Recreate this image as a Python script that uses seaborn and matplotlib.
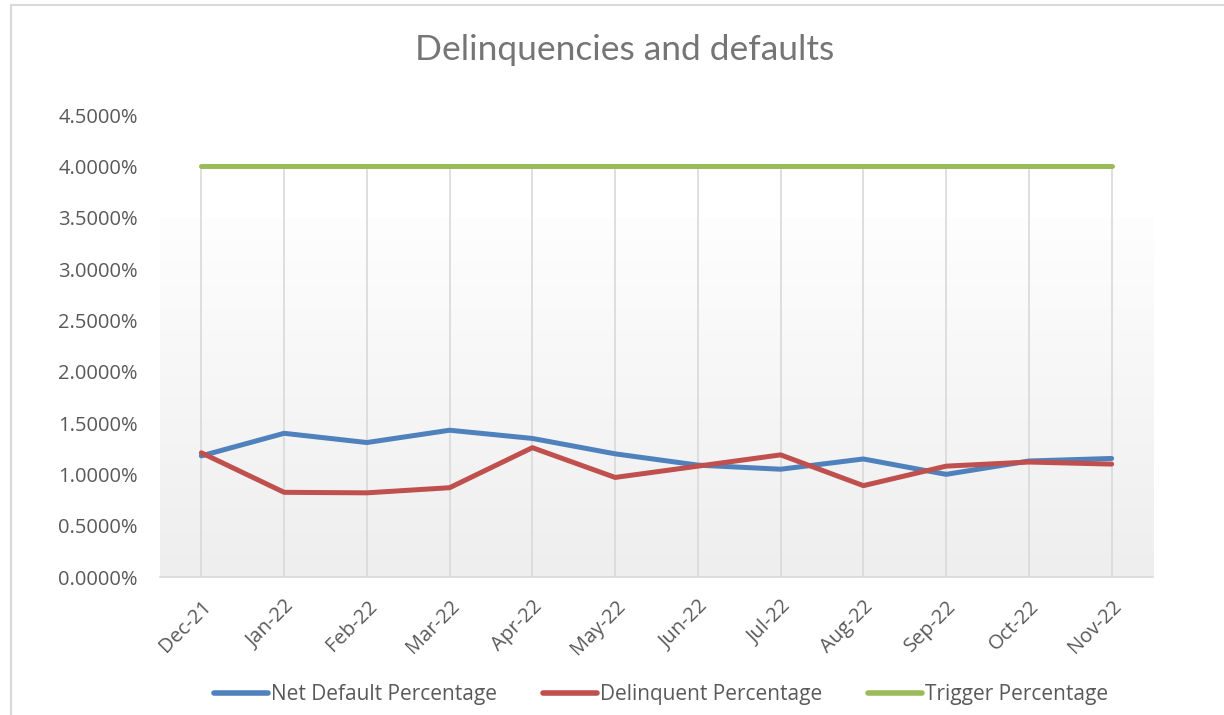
import numpy as np
import pandas as pd
import matplotlib
matplotlib.use("Agg")
import matplotlib.pyplot as plt
import seaborn as sns
from matplotlib.ticker import FuncFormatter, FixedLocator
from matplotlib.colors import LinearSegmentedColormap
from matplotlib.patches import Rectangle

months = ["Dec-21", "Jan-22", "Feb-22", "Mar-22", "Apr-22", "May-22",
          "Jun-22", "Jul-22", "Aug-22", "Sep-22", "Oct-22", "Nov-22"]
net_default = [1.18, 1.40, 1.31, 1.43, 1.35, 1.20, 1.09, 1.05, 1.15, 1.00, 1.13, 1.155]
delinquent = [1.21, 0.825, 0.82, 0.87, 1.26, 0.97, 1.08, 1.19, 0.89, 1.08, 1.12, 1.10]
trigger = [4.0] * 12

series = {"Net Default Percentage": net_default,
          "Delinquent Percentage": delinquent,
          "Trigger Percentage": trigger}
rows = []
for name, vals in series.items():
    for i, v in enumerate(vals):
        rows.append({"idx": i, "month": months[i], "value": v / 100, "series": name})
df = pd.DataFrame(rows)

sns.set_style("white")
plt.rcParams["font.family"] = ["Open Sans", "DejaVu Sans"]

fig = plt.figure(figsize=(12.24, 7.15), dpi=100)
ax = fig.add_axes([0.1307, 0.193, 0.8113, 0.646])

# light gradient fill of the plot area (Excel style)
cmap = LinearSegmentedColormap.from_list("bg", ["#fefefe", "#eeeeee"])
grad = np.linspace(0, 1, 256).reshape(-1, 1)
ax.imshow(grad, cmap=cmap, aspect="auto", extent=[-0.5, 11.5, 0, 0.035],
          origin="upper", zorder=0)

# drop lines from the top series to the axis
ax.vlines(range(len(months)), 0, np.array(trigger) / 100, color="#d9d9d9", lw=1.2, zorder=1)

palette = {"Net Default Percentage": "#4f81bd",
           "Delinquent Percentage": "#c0504d",
           "Trigger Percentage": "#9bbb59"}
sns.lineplot(data=df, x="idx", y="value", hue="series", palette=palette,
             linewidth=3.6, ax=ax, legend=True, zorder=3)

ax.set_xlim(-0.5, 11.5)
ax.set_ylim(0, 0.045)
ax.yaxis.set_major_locator(FixedLocator(np.arange(0, 0.0451, 0.005)))
ax.yaxis.set_major_formatter(FuncFormatter(lambda v, p: f"{v*100:.4f}%"))
ax.set_xticks(range(len(months)))
ax.set_xticklabels(months, rotation=45, ha="right", rotation_mode="anchor")
ax.set_xticks(np.arange(-0.5, 12, 1), minor=True)
ax.tick_params(axis="x", which="major", length=0, pad=14, labelsize=14.5, labelcolor="#595959")
ax.tick_params(axis="x", which="minor", length=6, color="#d9d9d9", width=1.2, direction="out")
ax.tick_params(axis="y", length=0, pad=16, labelsize=14.5, labelcolor="#595959")
ax.set_xlabel("")
ax.set_ylabel("")
for s in ["top", "right", "left"]:
    ax.spines[s].set_visible(False)
ax.spines["bottom"].set_color("#d9d9d9")
ax.spines["bottom"].set_linewidth(1.2)

fig.text(0.5106, 0.930, "Delinquencies and defaults", fontsize=25.5, color="#757575",
         family=["Lato", "DejaVu Sans"], ha="center", va="center")

handles, labels = ax.get_legend_handles_labels()
leg = ax.legend(handles, labels, loc="center", bbox_to_anchor=(0.54, 0.028),
                bbox_transform=fig.transFigure, ncol=3, frameon=False,
                handlelength=2.6, columnspacing=2.2, handletextpad=0.15,
                prop={"family": ["Open Sans", "DejaVu Sans"], "size": 15})
for t in leg.get_texts():
    t.set_color("#595959")
for h in leg.legend_handles:
    h.set_linewidth(4)

# chart area border
fig.patches.append(Rectangle((0.009, -0.5), 1.5, 1.493, transform=fig.transFigure,
                             fill=False, edgecolor="#d9d9d9", lw=1.5))

fig.savefig("out.png", dpi=100)
